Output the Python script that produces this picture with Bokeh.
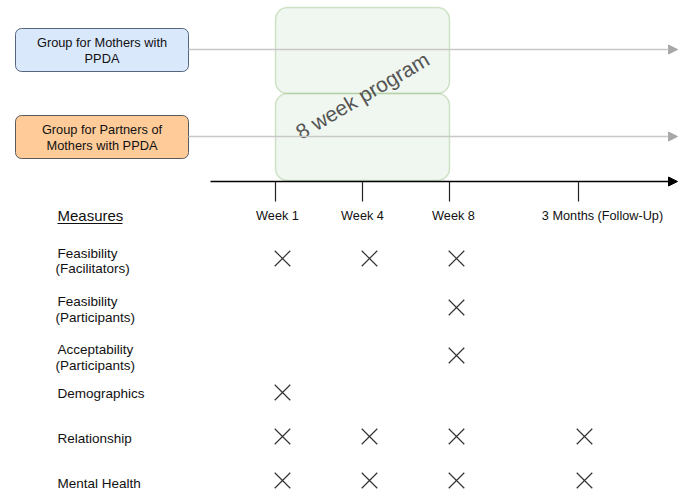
from bokeh.plotting import figure
from bokeh.models import Arrow, NormalHead
from bokeh.core.properties import value
from bokeh.embed import file_html
from bokeh.resources import INLINE

# ---- data ----
groups = ["Group for Mothers with\nPPDA", "Group for Partners of\nMothers with PPDA"]
timepoints = ["Week 1", "Week 4", "Week 8", "3 Months (Follow-Up)"]
measures = ["Feasibility\n(Facilitators)", "Feasibility\n(Participants)",
            "Acceptability\n(Participants)", "Demographics", "Relationship", "Mental Health"]
# 1 = measured at that timepoint
schedule = [
    [1, 1, 1, 0],
    [0, 0, 1, 0],
    [0, 0, 1, 0],
    [1, 0, 0, 0],
    [1, 1, 1, 1],
    [1, 1, 1, 1],
]
program_label = "8 week program"

# ---- layout (screen-like coordinates) ----
tick_x = [275, 362, 449, 578]
label_x = [277, 362, 453, 602]
mark_x = [282, 369, 456, 584]
row_y = [258, 307, 355, 392, 436, 480]
label_y = [[253, 268], [301, 317], [349, 365], [393], [438], [483]]
label_x0 = [[57, 55], [57, 55], [57, 55], [57], [57], [57]]

FONT = value("Liberation Sans")
W, H = 682, 492

p = figure(width=W, height=H, x_range=(0, W), y_range=(H, 0),
           output_backend="svg", toolbar_location=None, min_border=0)
p.axis.visible = False
p.grid.visible = False
p.outline_line_color = None
p.background_fill_color = "white"

# gray timelines with arrows
for gy in [49, 136]:
    p.add_layout(Arrow(x_start=188, y_start=gy, x_end=677, y_end=gy,
                       line_color="#c8c8c8", line_width=1.5,
                       end=NormalHead(size=9, fill_color="#a8a8a8", line_color="#a8a8a8")))

# group boxes
p.quad(left=[15], right=[188], top=[28], bottom=[71], fill_color="#dae8fc",
       line_color="#56657d", line_width=1, border_radius=6)
p.quad(left=[15], right=[188], top=[115], bottom=[158], fill_color="#ffcc99",
       line_color="#5a5a5a", line_width=1, border_radius=6)
for (gy, txt) in zip([42, 129], groups):
    for i, ln in enumerate(txt.split("\n")):
        p.text(x=[101.5], y=[gy + i * 16], text=[ln], text_font=FONT, text_font_size="12.8px",
               text_align="center", text_baseline="middle", text_color="#111111")

# program boxes
for (t, b) in [(7, 93), (93, 180)]:
    p.quad(left=[275], right=[449], top=[t], bottom=[b], fill_color="#d5e8d4", fill_alpha=0.35,
           line_color="#82b366", line_alpha=0.35, line_width=1.5, border_radius=12)
p.text(x=[362], y=[95], text=[program_label], angle=0.53, text_font=FONT, text_font_size="21px",
       text_align="center", text_baseline="middle", text_color="#555555")

# main time axis
p.add_layout(Arrow(x_start=210, y_start=181, x_end=677, y_end=181, line_color="black", line_width=1.3,
                   end=NormalHead(size=9, fill_color="black", line_color="black")))
p.segment(x0=tick_x, y0=[181] * 4, x1=tick_x, y1=[201] * 4, line_color="#222222", line_width=1.2)
p.text(x=label_x, y=[215] * 4, text=timepoints, text_font=FONT, text_font_size="12.7px",
       text_align="center", text_baseline="middle", text_color="#111111")

# Measures header
p.text(x=[57], y=[215], text=["Measures"], text_font=FONT, text_font_size="15px",
       text_align="left", text_baseline="middle", text_color="#111111")
p.segment(x0=[57], y0=[223], x1=[122], y1=[223], line_color="#111111", line_width=1)

# row labels
for m, ys, xs in zip(measures, label_y, label_x0):
    for ln, yy, xx in zip(m.split("\n"), ys, xs):
        p.text(x=[xx], y=[yy], text=[ln], text_font=FONT, text_font_size="13.5px",
               text_align="left", text_baseline="middle", text_color="#111111")

# markers
mx, my = [], []
for r, row in enumerate(schedule):
    for c, v in enumerate(row):
        if v:
            mx.append(mark_x[c])
            my.append(row_y[r])
p.scatter(x=mx, y=my, marker="x", size=22, line_color="#333333", line_width=1.2)

open("out.html", "w").write(file_html(p, INLINE))
